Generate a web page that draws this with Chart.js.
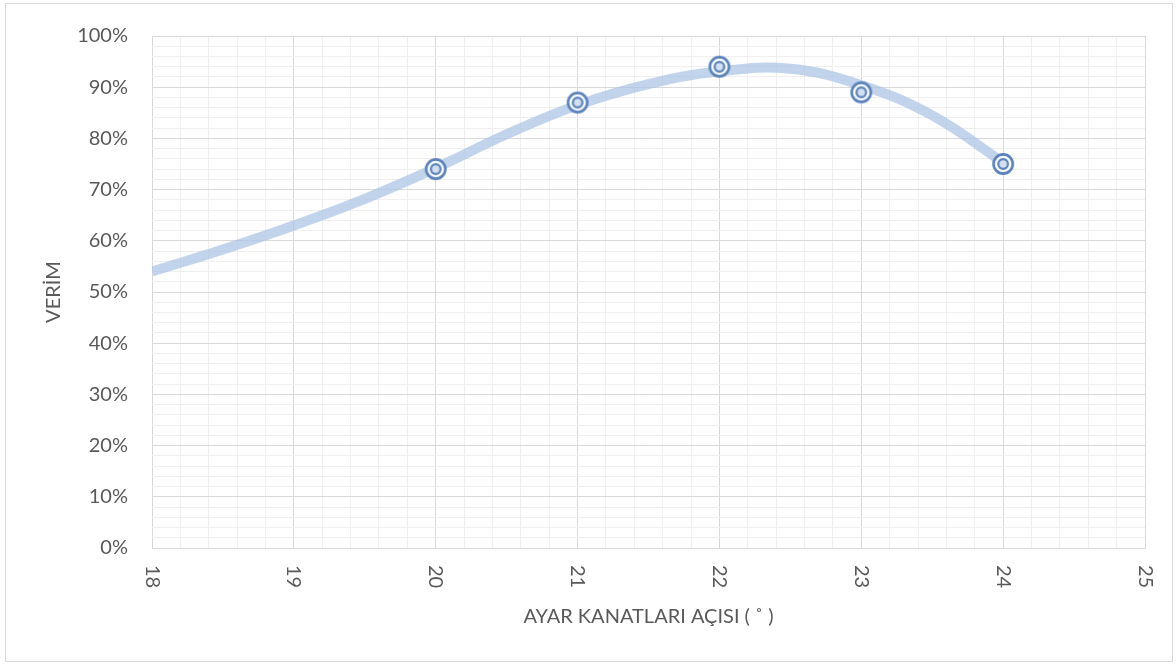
<!DOCTYPE html>
<html>
<head>
<meta charset="utf-8">
<script src="https://cdn.jsdelivr.net/npm/chart.js@4/dist/chart.umd.min.js"></script>
<style>
  html, body { margin: 0; padding: 0; background: #ffffff; }
  #wrap { position: relative; width: 1176px; height: 664px; }
</style>
</head>
<body>
<div id="wrap"><canvas id="c" width="1176" height="664"></canvas></div>
<script>
// Measured efficiency per guide-vane angle
const angles = [20, 21, 22, 23, 24];
const efficiency = [74, 87, 94, 89, 75];

// Smoothed trend curve through the measurements
const trendAngle = [18, 18.5, 19, 19.5, 20, 20.5, 21, 21.5, 22, 22.5, 23, 23.5, 24];
const trendValue = [54, 58.3, 63, 68.2, 74.2, 80.8, 86.5, 90.6, 93.1, 93.6, 90.4, 84.5, 75.3];

// Axis tick labels
const xTickValues = [18, 19, 20, 21, 22, 23, 24, 25];
const xTickLabels = ['18', '19', '20', '21', '22', '23', '24', '25'];
const yTickLabels = ['0%', '10%', '20%', '30%', '40%', '50%', '60%', '70%', '80%', '90%', '100%'];

const xTitle = 'AYAR KANATLARI AÇISI ( ˚ )';
const yTitle = 'VERİM';

const FONT = 'Lato, "Open Sans", sans-serif';
const TEXT = '#595959';

// Double-ring marker
function ringMarker() {
  const s = 28, c = document.createElement('canvas');
  c.width = s; c.height = s;
  const g = c.getContext('2d');
  g.beginPath(); g.arc(s / 2, s / 2, 9.6, 0, Math.PI * 2);
  g.fillStyle = 'rgba(255,255,255,0.85)'; g.fill();
  g.lineWidth = 2.6; g.strokeStyle = '#5a82bb'; g.stroke();
  g.beginPath(); g.arc(s / 2, s / 2, 4.8, 0, Math.PI * 2);
  g.fillStyle = '#d3e0f0'; g.fill();
  g.lineWidth = 2.2; g.strokeStyle = '#5a82bb'; g.stroke();
  return c;
}

const isWhole = v => Math.abs(v - Math.round(v)) < 1e-6;

const decor = {
  id: 'decor',
  beforeDraw(chart) {
    const ctx = chart.ctx;
    ctx.save();
    ctx.fillStyle = '#ffffff';
    ctx.fillRect(0, 0, chart.width, chart.height);
    ctx.strokeStyle = '#d9d9d9';
    ctx.lineWidth = 1;
    ctx.strokeRect(5.5, 3.5, 1167, 658);
    ctx.restore();
  },
  afterDraw(chart) {
    const ctx = chart.ctx, xs = chart.scales.x, area = chart.chartArea;
    ctx.save();
    ctx.fillStyle = TEXT;
    ctx.font = '20px ' + FONT;
    // x tick labels, rotated to read downward
    xTickValues.forEach((v, i) => {
      const px = xs.getPixelForValue(v);
      ctx.save();
      ctx.translate(px, 565);
      ctx.rotate(Math.PI / 2);
      ctx.textAlign = 'left';
      ctx.textBaseline = 'middle';
      ctx.fillText(xTickLabels[i], 0, 0);
      ctx.restore();
    });
    // axis titles
    ctx.textAlign = 'center';
    ctx.textBaseline = 'middle';
    ctx.fillText(xTitle, (area.left + area.right) / 2, 617);
    ctx.save();
    ctx.translate(54, (area.top + area.bottom) / 2);
    ctx.rotate(-Math.PI / 2);
    ctx.fillText(yTitle, 0, 0);
    ctx.restore();
    ctx.restore();
  }
};

new Chart(document.getElementById('c'), {
  type: 'scatter',
  data: {
    datasets: [
      {
        label: 'Verim',
        data: angles.map((a, i) => ({ x: a, y: efficiency[i] })),
        pointStyle: ringMarker(),
        pointRadius: 10,
        order: 0
      },
      {
        type: 'line',
        label: 'Eğilim',
        data: trendAngle.map((a, i) => ({ x: a, y: trendValue[i] })),
        borderColor: 'rgba(170,196,229,0.72)',
        borderWidth: 10,
        pointRadius: 0,
        tension: 0.4,
        fill: false,
        order: 1
      }
    ]
  },
  plugins: [decor],
  options: {
    responsive: false,
    animation: false,
    events: [],
    layout: { padding: { left: 0, right: 31, top: 32, bottom: 0 } },
    plugins: { legend: { display: false }, tooltip: { enabled: false } },
    scales: {
      x: {
        type: 'linear',
        min: 18, max: 25,
        afterFit(s) { s.height = 116; },
        border: { display: true, color: '#d9d9d9' },
        grid: {
          drawTicks: false,
          color: c => isWhole(c.tick.value) ? '#d9d9d9' : '#efefef',
          lineWidth: 1
        },
        ticks: { display: false, stepSize: 0.2, maxTicksLimit: 100, autoSkip: false }
      },
      y: {
        min: 0, max: 100,
        afterFit(s) { s.width = 152; },
        border: { display: false },
        grid: {
          drawTicks: false,
          color: c => (Math.round(c.tick.value) % 10 === 0) ? '#d9d9d9' : '#efefef',
          lineWidth: 1
        },
        ticks: {
          stepSize: 2,
          maxTicksLimit: 100,
          autoSkip: false,
          padding: 24,
          color: TEXT,
          font: { family: FONT, size: 20 },
          callback: v => (Math.round(v) % 10 === 0) ? yTickLabels[Math.round(v) / 10] : ''
        }
      }
    }
  }
});
</script>
</body>
</html>
